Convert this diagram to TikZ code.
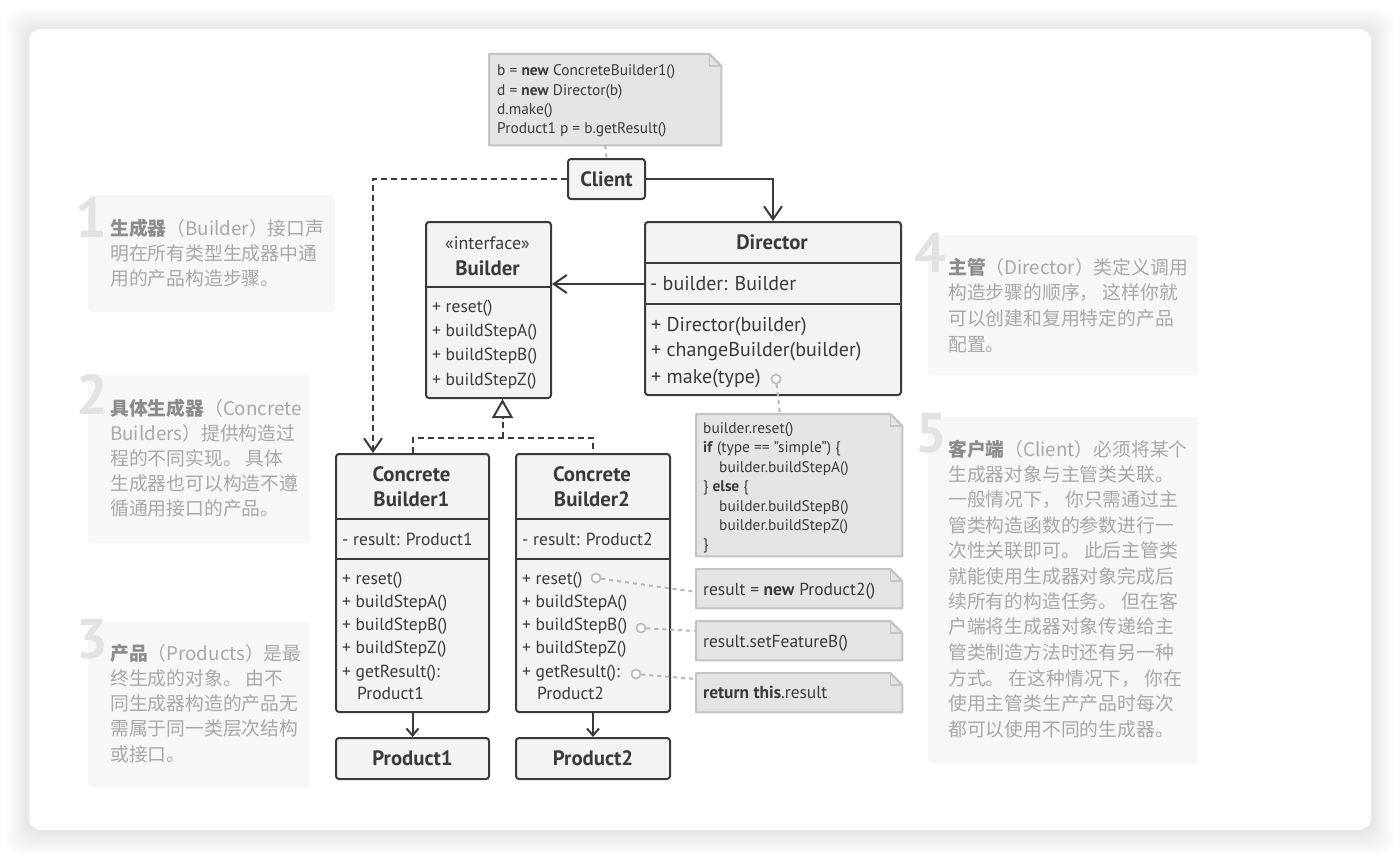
\documentclass[tikz,border=0pt]{standalone}
\usepackage{fontspec}
\setmainfont{PT Sans}
\newfontfamily\cjk{Noto Sans CJK SC}
\usetikzlibrary{arrows.meta}
\definecolor{ink}{HTML}{3A3A3A}
\definecolor{boxfill}{HTML}{F3F3F3}
\definecolor{notefill}{HTML}{E4E4E4}
\definecolor{noteline}{HTML}{C4C4C4}
\definecolor{desc}{HTML}{A8A8A8}
\definecolor{descbold}{HTML}{8C8C8C}
\definecolor{descbg}{HTML}{F7F7F7}
\definecolor{numc}{HTML}{E2E2E2}
\definecolor{dotcol}{HTML}{B8B8B8}
\newcommand\notedraw[1]{%
  \fill[notefill] (#1.north west) -- ([xshift=-12pt]#1.north east) -- ([yshift=-12pt]#1.north east) -- (#1.south east) -- (#1.south west) -- cycle;
  \draw[noteline, line width=2pt, line join=round] (#1.north west) -- ([xshift=-12pt]#1.north east) -- ([yshift=-12pt]#1.north east) -- (#1.south east) -- (#1.south west) -- cycle;
  \draw[noteline, line width=1.5pt] ([xshift=-12pt]#1.north east) |- ([yshift=-12pt]#1.north east);
}
\begin{document}
\begin{tikzpicture}[x=1pt,y=-1pt,
  cls/.style={draw=ink, fill=boxfill, line width=2pt, rounded corners=3pt, inner sep=0pt, anchor=north west},
  divl/.style={draw=ink, line width=2pt},
  mt/.style={anchor=west, inner sep=0pt, text height=12.2pt, text depth=0pt, text=ink, font=\fontsize{17.5}{20}\selectfont},
  mtl/.style={anchor=west, inner sep=0pt, text height=14pt, text depth=0pt, text=ink, font=\fontsize{20}{22}\selectfont},
  ttl/.style={anchor=center, inner sep=0pt, text height=14.5pt, text depth=0pt, text=ink, font=\bfseries\fontsize{20.8}{24}\selectfont},
  nt/.style={anchor=west, inner sep=0pt, text height=10.8pt, text depth=0pt, text=ink, font=\fontsize{15.4}{17}\selectfont},
  ntl/.style={anchor=west, inner sep=0pt, text height=12.2pt, text depth=0pt, text=ink, font=\fontsize{17.4}{20}\selectfont},
  notebg/.style={anchor=north west, inner sep=0pt},
  circ/.style={circle, draw=dotcol, fill=white, line width=1.6pt, minimum size=9pt, inner sep=0pt},
  dotc/.style={draw=dotcol, line width=2pt, dash pattern=on 4pt off 4pt},
  arr/.style={draw=ink, line width=2pt, -{Straight Barb[length=13pt,width=18pt,line width=2pt]}},
  arrs/.style={draw=ink, line width=2pt, -{Straight Barb[length=7pt,width=12pt,line width=2pt]}},
  dsh/.style={draw=ink, line width=2pt, dash pattern=on 6pt off 4pt},
  dbg/.style={fill=descbg, rounded corners=3pt},
  dtx/.style={anchor=west, inner sep=0pt, text height=14.3pt, text depth=0pt, text=desc, font=\cjk\fontsize{18.8}{22}\selectfont},
  num/.style={anchor=base, inner sep=0pt, text=numc, font=\bfseries\fontsize{56}{60}\selectfont}
]
\useasboundingbox (0,0) rectangle (1400,859);
\fill[white] (0,0) rectangle (1400,859);
% card shadow
\foreach \i in {1,...,24}{
  \fill[black, opacity=0.005, rounded corners=14pt] (29-\i,31-\i) rectangle (1371+\i,832+\i);
}
\fill[white, rounded corners=12pt] (29,29) rectangle (1371,830);

% ---------- description panels ----------
\fill[dbg] (88,195) rectangle (335,312);
\fill[dbg] (88,375) rectangle (310,543);
\fill[dbg] (88,622) rectangle (310,787);
\fill[dbg] (928,235) rectangle (1198,375);
\fill[dbg] (928,417) rectangle (1198,763);

\node[num] (n1num) at (91,237) {1};
\node[num] (n2num) at (92,414) {2};
\node[num] (n3num) at (92,658) {3};
\node[num] (n4num) at (930,272) {4};
\node[num] (n5num) at (931,452) {5};

\node[dtx] (d1a) at (110,228) {{\color{descbold}\bfseries 生成器}（Builder）接口声};
\node[dtx] (d1b) at (110,253) {明在所有类型生成器中通};
\node[dtx] (d1c) at (110,278) {用的产品构造步骤。};

\node[dtx] (d2a) at (110,408) {{\color{descbold}\bfseries 具体生成器}（Concrete};
\node[dtx] (d2b) at (110,433) {Builders）提供构造过};
\node[dtx] (d2c) at (110,458) {程的不同实现。 具体};
\node[dtx] (d2d) at (110,483) {生成器也可以构造不遵};
\node[dtx] (d2e) at (110,508) {循通用接口的产品。};

\node[dtx] (d3a) at (110,653) {{\color{descbold}\bfseries 产品}（Products）是最};
\node[dtx] (d3b) at (110,678) {终生成的对象。 由不};
\node[dtx] (d3c) at (110,703) {同生成器构造的产品无};
\node[dtx] (d3d) at (110,728) {需属于同一类层次结构};
\node[dtx] (d3e) at (110,754) {或接口。};

\node[dtx] (d4a) at (948,267) {{\color{descbold}\bfseries 主管}（Director）类定义调用};
\node[dtx] (d4b) at (948,292) {构造步骤的顺序， 这样你就};
\node[dtx] (d4c) at (948,318) {可以创建和复用特定的产品};
\node[dtx] (d4d) at (948,344) {配置。};

\node[dtx] (d5a) at (948,449) {{\color{descbold}\bfseries 客户端}（Client）必须将某个};
\node[dtx] (d5b) at (948,474) {生成器对象与主管类关联。};
\node[dtx] (d5c) at (948,499) {一般情况下， 你只需通过主};
\node[dtx] (d5d) at (948,525) {管类构造函数的参数进行一};
\node[dtx] (d5e) at (948,550) {次性关联即可。 此后主管类};
\node[dtx] (d5f) at (948,576) {就能使用生成器对象完成后};
\node[dtx] (d5g) at (948,601) {续所有的构造任务。 但在客};
\node[dtx] (d5h) at (948,626) {户端将生成器对象传递给主};
\node[dtx] (d5i) at (948,652) {管类制造方法时还有另一种};
\node[dtx] (d5j) at (948,678) {方式。 在这种情况下， 你在};
\node[dtx] (d5k) at (948,703) {使用主管类生产产品时每次};
\node[dtx] (d5l) at (948,729) {都可以使用不同的生成器。};

% ---------- notes ----------
\node[notebg, minimum width=232pt, minimum height=91pt] (tn) at (489,54) {};
\notedraw{tn}
\node[nt] (tn1) at (497,70) {b = \textbf{new} ConcreteBuilder1()};
\node[nt] (tn2) at (497,90) {d = \textbf{new} Director(b)};
\node[nt] (tn3) at (497,109) {d.make()};
\node[nt] (tn4) at (497,128) {Product1 p = b.getResult()};

\node[notebg, minimum width=206pt, minimum height=142pt] (mk) at (696,414) {};
\notedraw{mk}
\node[nt] (mk1) at (703,428) {builder.reset()};
\node[nt] (mk2) at (703,447) {\textbf{if} (type == "simple") \{};
\node[nt] (mk3) at (719,467) {builder.buildStepA()};
\node[nt] (mk4) at (703,486) {\} \textbf{else} \{};
\node[nt] (mk5) at (719,506) {builder.buildStepB()};
\node[nt] (mk6) at (719,525) {builder.buildStepZ()};
\node[nt] (mk7) at (703,544) {\}};

\node[notebg, minimum width=206pt, minimum height=39pt] (na) at (696,569) {};
\notedraw{na}
\node[ntl] (na1) at (703,589) {result = \textbf{new} Product2()};
\node[notebg, minimum width=206pt, minimum height=39pt] (nb) at (696,621) {};
\notedraw{nb}
\node[ntl] (nb1) at (703,641) {result.setFeatureB()};
\node[notebg, minimum width=206pt, minimum height=39pt] (nc) at (696,673) {};
\notedraw{nc}
\node[ntl] (nc1) at (703,692) {\textbf{return this}.result};

% ---------- classes ----------
\node[cls, minimum width=77pt, minimum height=40pt] (client) at (567,158) {};
\node[ttl] (clientt) at (client.center) {Client};

\node[cls, minimum width=125pt, minimum height=176pt] (builder) at (425,221) {};
\draw[divl] (425,287) -- (550,287);
\node[ttl, font=\fontsize{18}{20}\selectfont] (bi) at (487.5,242) {«interface»};
\node[ttl] (bt) at (487.5,268) {Builder};
\node[mt] (b1) at (432,306) {+ reset()};
\node[mt] (b2) at (432,330) {+ buildStepA()};
\node[mt] (b3) at (432,354) {+ buildStepB()};
\node[mt] (b4) at (432,379) {+ buildStepZ()};

\node[cls, minimum width=256pt, minimum height=173pt] (director) at (644,221) {};
\draw[divl] (644,263) -- (900,263);
\draw[divl] (644,304) -- (900,304);
\node[ttl] (dt) at (772,242) {Director};
\node[mtl] (da) at (650,283) {- builder: Builder};
\node[mtl] (d1) at (651,324) {+ Director(builder)};
\node[mtl] (d2) at (651,349) {+ changeBuilder(builder)};
\node[mtl] (d3) at (651,376) {+ make(type)};

\node[cls, minimum width=153pt, minimum height=258pt] (cb1) at (335,453) {};
\draw[divl] (335,519) -- (488,519);
\draw[divl] (335,559) -- (488,559);
\node[ttl] (cb1t1) at (411.5,474) {Concrete};
\node[ttl] (cb1t2) at (411.5,499) {Builder1};
\node[mt] (cb1a) at (342,539) {- result: Product1};
\node[mt] (cb1m1) at (342,578) {+ reset()};
\node[mt] (cb1m2) at (342,601) {+ buildStepA()};
\node[mt] (cb1m3) at (342,624) {+ buildStepB()};
\node[mt] (cb1m4) at (342,647) {+ buildStepZ()};
\node[mt] (cb1m5) at (342,671) {+ getResult():};
\node[mt] (cb1m6) at (357,693) {Product1};

\node[cls, minimum width=154pt, minimum height=258pt] (cb2) at (515,453) {};
\draw[divl] (515,519) -- (669,519);
\draw[divl] (515,559) -- (669,559);
\node[ttl] (cb2t1) at (592,474) {Concrete};
\node[ttl] (cb2t2) at (592,499) {Builder2};
\node[mt] (cb2a) at (522,539) {- result: Product2};
\node[mt] (cb2m1) at (522,578) {+ reset()};
\node[mt] (cb2m2) at (522,601) {+ buildStepA()};
\node[mt] (cb2m3) at (522,624) {+ buildStepB()};
\node[mt] (cb2m4) at (522,647) {+ buildStepZ()};
\node[mt] (cb2m5) at (522,671) {+ getResult():};
\node[mt] (cb2m6) at (537,693) {Product2};

\node[cls, minimum width=153pt, minimum height=41pt] (p1) at (335,737) {};
\node[ttl] (p1t) at (p1.center) {Product1};
\node[cls, minimum width=154pt, minimum height=41pt] (p2) at (515,737) {};
\node[ttl] (p2t) at (p2.center) {Product2};

% ---------- connectors ----------
\draw[dotc] (tn.south) -- (client.north);
\draw[arr] (client.east) -| (director.north);
\draw[dsh, -{Straight Barb[length=13pt,width=18pt,line width=2pt]}] (client.west) -| ([xshift=38pt]cb1.north west);
\draw[arr] ([yshift=-63pt]director.north west) -- ([yshift=-63pt]builder.north east);
\coordinate (jn) at (502.5,438);
\draw[dsh] (cb1.north) |- (jn) -| (cb2.north);
\draw[dsh] (jn) -- ([yshift=-21pt]jn |- builder.south);
\draw[draw=ink, line width=2pt, -{Triangle[open, length=19pt, width=21pt, line width=2pt]}] ([yshift=-20pt]jn |- builder.south) -- (jn |- builder.south);
\draw[arrs] (cb1.south) -- (p1.north);
\draw[arrs] (cb2.south) -- (p2.north);

\node[circ] (c0) at (776,379) {};
\node[circ] (c1) at (596,578) {};
\node[circ] (c2) at (641,628) {};
\node[circ] (c3) at (636,674) {};
\draw[dotc] (c0) -- ([xshift=84pt]mk.north west);
\draw[dotc] (c1) -- ([yshift=-23pt]na.north west);
\draw[dotc] (c2) -- ([yshift=-10pt]nb.north west);
\draw[dotc] (c3) -- ([yshift=-6pt]nc.north west);
\end{tikzpicture}
\end{document}
